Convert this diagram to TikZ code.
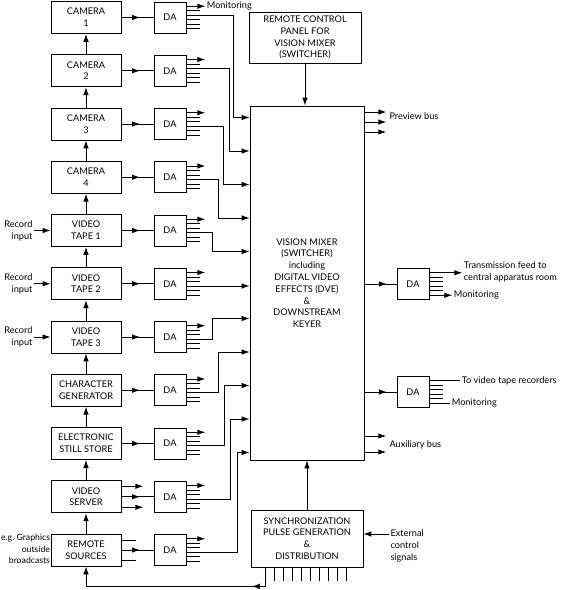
\documentclass[tikz,border=0pt]{standalone}
\usepackage{fontspec}
\setmainfont{Lato}
\usetikzlibrary{arrows.meta,calc,decorations.markings}

\begin{document}
\begin{tikzpicture}[x=1pt,y=-1pt,
  line width=1pt,
  >={Latex[length=8pt,width=5.5pt]},
  every node/.style={font=\fontsize{9.2}{11.8}\selectfont},
  blk/.style={draw,line width=0.7pt,align=center,inner sep=0pt,minimum width=70pt,minimum height=32pt},
  dabox/.style={draw,line width=0.7pt,inner sep=0pt,minimum width=32pt,minimum height=31pt},
  lbl/.style={inner sep=1pt},
  midarrow/.style={postaction={decorate},decoration={markings,mark=at position #1 with {\arrow{Latex[length=8pt,width=5.5pt]}}}}]
\useasboundingbox (0,0) rectangle (561,590);

% sources, each with its distribution amplifier
\foreach \t [count=\i from 0] in {{CAMERA\\1},{CAMERA\\2},{CAMERA\\3},{CAMERA\\4},
    {VIDEO\\TAPE 1},{VIDEO\\TAPE 2},{VIDEO\\TAPE 3},{CHARACTER\\GENERATOR},
    {ELECTRONIC\\STILL STORE},{VIDEO\\SERVER},{REMOTE\\SOURCES}}{
  \node[blk] (src\i) at (86,17.5+53.25*\i) {\t};
  \node[dabox] (da\i) at (170,17.5+53.25*\i) {DA};
  \foreach \k in {-11.25,-6.75,-2.25,2.25,6.75,11.25}
    \draw ($(da\i.east)+(0,\k)$) -- ++(14,0);
  \draw[->] ($(da\i.east)+(0,-11.25)$) -- ++(19,0);
  \draw[midarrow=0.58] (src\i.east) -- (da\i.west);
}
\foreach \i [count=\j] in {0,...,9}
  \draw[->] (src\j.north) -- (src\i.south);
\draw[->] ($(src9.east)+(0,-10.5)$) -- ++(22,0);
\draw[->] ($(src9.east)+(0,10.5)$) -- ++(22,0);
\draw ($(src10.east)+(0,-10)$) -- ++(15,0);
\draw ($(src10.east)+(0,10)$) -- ++(15,0);

\node[lbl,anchor=west] (mon0) at ($(da0.east)+(19,-11.25)$) {Monitoring};
\foreach \i in {4,5,6}{
  \node[lbl,anchor=east,align=right] (rec\i) at (34,17.5+53.25*\i) {Record\\input};
  \draw[->] (rec\i.east) -- (src\i.west);
}
\node[lbl,anchor=east,align=right,inner sep=0pt,font=\fontsize{8.7}{11.8}\selectfont] (ob) at (50.5,549) {e.g.\ Graphics\\outside\\broadcasts};

% mixer, control panel and sync
\node[draw,line width=0.7pt,minimum width=114pt,minimum height=354pt,align=center,inner sep=0pt] (mixer) at (307,283)
  {VISION MIXER\\(SWITCHER)\\including\\DIGITAL VIDEO\\EFFECTS (DVE)\\\&\\DOWNSTREAM\\KEYER};
\node[draw,line width=0.7pt,minimum width=112pt,minimum height=51pt,align=center,inner sep=0pt] (rcp) at (305,37.5)
  {REMOTE CONTROL\\PANEL FOR\\VISION MIXER\\(SWITCHER)};
\node[draw,line width=0.7pt,minimum width=112pt,minimum height=57pt,align=center,inner sep=0pt] (sync) at (307,538.5)
  {SYNCHRONIZATION\\PULSE GENERATION\\\&\\DISTRIBUTION};
\draw[->] (rcp.south) -- (rcp.south |- mixer.north);
\draw[->] (sync.north) -- (mixer.south);

\foreach \i/\o/\vx/\t in {0/-2.25/233/117.5,1/-2.25/229/151,2/2.25/223/184.5,3/2.25/218/218,
    4/2.25/212/251.5,6/2.25/212/318.5,7/2.25/218/352,8/2.25/224/385.5,9/2.25/230/419,10/2.25/237/452.5}
  \draw[->] ($(da\i.east)+(0,\o)$) -| (\vx,\t) -- (mixer.west |- 0,\t);
\draw[->] ($(da5.east)+(0,2.25)$) -- (mixer.west |- 0,286);

\foreach \y in {112,122,132}
  \draw[->] (mixer.east |- 0,\y) -- ++(22,0);
\node[lbl,anchor=west] (prev) at (388,116) {Preview bus};
\foreach \y in {436,452}
  \draw[->] (mixer.east |- 0,\y) -- ++(22,0);
\node[lbl,anchor=west] (aux) at (388,445) {Auxiliary bus};

% output amplifiers
\node[dabox] (datx) at (413,284) {DA};
\node[dabox] (davtr) at (413,392) {DA};
\foreach \d in {datx,davtr}{
  \draw[midarrow=0.7] (mixer.east |- \d) -- (\d.west);
  \foreach \k in {-11.25,-6.75,-2.25,2.25,6.75,11.25}
    \draw ($(\d.east)+(0,\k)$) -- ++(14,0);
}
\draw[->] ($(datx.east)+(0,-11.25)$) -- ++(33,0);
\node[lbl,anchor=west,align=left] (tx) at ($(datx.east)+(33,-12.5)$) {Transmission feed to\\central apparatus room};
\draw[->] ($(datx.east)+(0,11.25)$) -- ++(23,0);
\node[lbl,anchor=west] (mon1) at ($(datx.east)+(23,11.25)$) {Monitoring};
\draw ($(davtr.east)+(0,-11.25)$) -- ++(31,0);
\node[lbl,anchor=west] (vtr) at ($(davtr.east)+(31,-11.25)$) {To video tape recorders};
\draw ($(davtr.east)+(0,11.25)$) -- ++(21,0);
\node[lbl,anchor=west] (mon2) at ($(davtr.east)+(21,11.25)$) {Monitoring};

% sync distribution
\foreach \k in {0,...,9}
  \draw ($(sync.south west)+(15+9*\k,0)$) -- ++(0,14);
\draw[->,midarrow=0.15] ($(sync.south west)+(15,0)$) -- ++(0,19) -| (src10.south);
\node[lbl,anchor=west,align=left] (ext) at (389,546) {External\\control\\signals};
\draw[->] (ext.west |- 0,534) -- (sync.east |- 0,534);
\end{tikzpicture}
\end{document}
